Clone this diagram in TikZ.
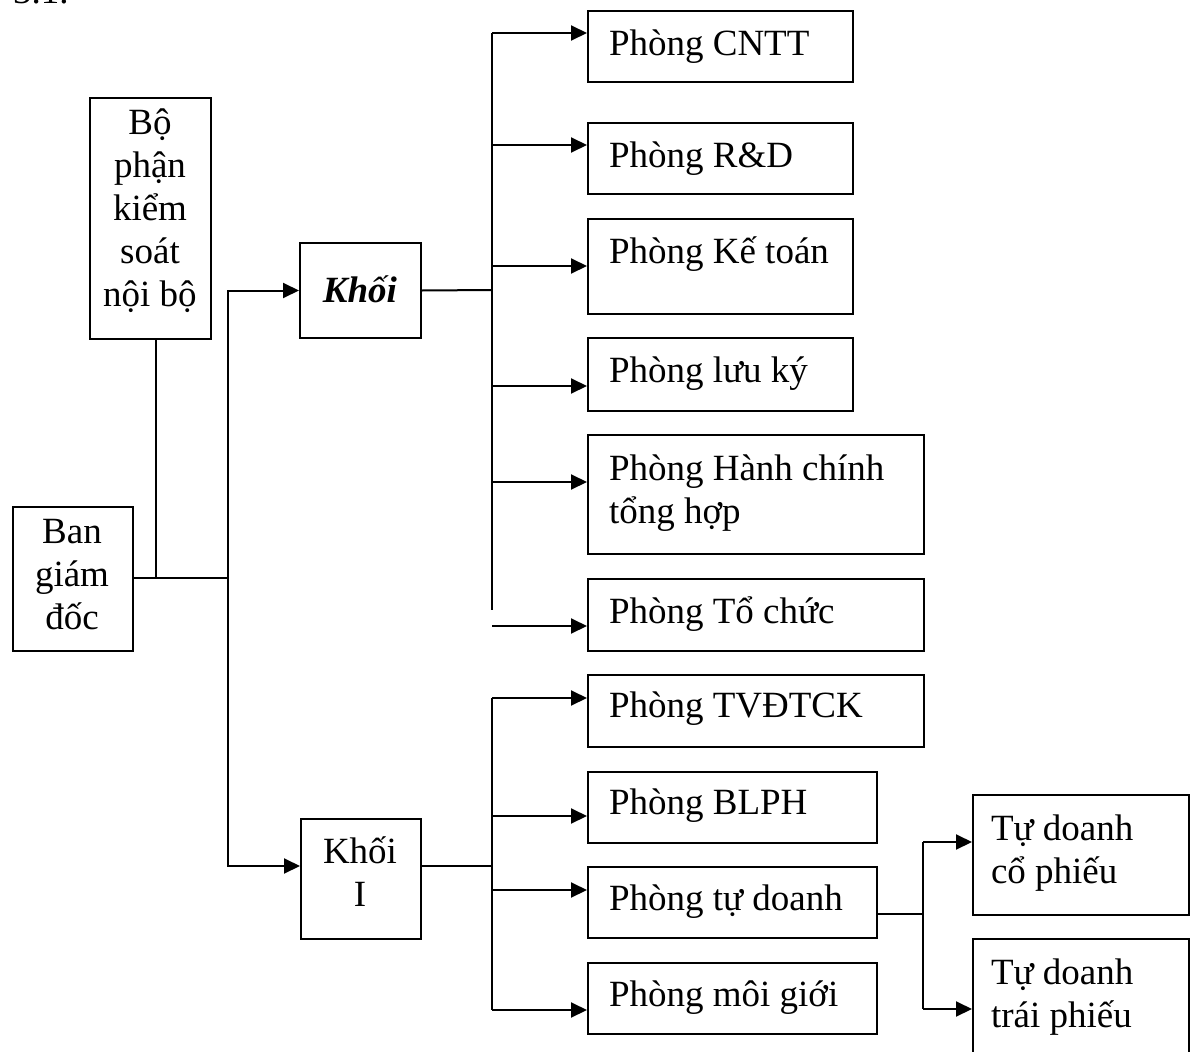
\documentclass[tikz,border=0pt]{standalone}
\usepackage{fontspec}
\setmainfont{Liberation Serif}
\usetikzlibrary{arrows.meta}
\newcommand{\cstk}[1]{\vtop{\baselineskip=43pt\lineskiplimit=-\maxdimen\lineskip=0pt\halign{\hfil##\hfil\cr#1\crcr}}}
\newcommand{\lstk}[1]{\vtop{\baselineskip=43pt\lineskiplimit=-\maxdimen\lineskip=0pt\halign{##\hfil\cr#1\crcr}}}
\begin{document}
\begin{tikzpicture}[x=1pt,y=-1pt,line width=2pt,
  box/.style={draw,line width=2pt,inner sep=0pt,anchor=north west},
  lbl/.style={inner sep=0pt,font=\fontsize{37}{43}\selectfont},
  arr/.style={-{Triangle[length=16pt,width=15pt]}}]
\useasboundingbox (0,0) rectangle (1195,1052);

% caption fragment at top (cut off)
\node[lbl,anchor=base west] (cap) at (12,4) {3.1.};

% boxes
\node[box,minimum width=121pt,minimum height=241pt] (bpk) at (89,97) {};
\node[box,minimum width=120pt,minimum height=144pt] (ban) at (12,506) {};
\node[box,minimum width=121pt,minimum height=95pt] (khoi) at (299,242) {};
\node[box,minimum width=120pt,minimum height=120pt] (khoi1) at (300,818) {};
\node[box,minimum width=265pt,minimum height=71pt] (cntt) at (587,10) {};
\node[box,minimum width=265pt,minimum height=71pt] (rd) at (587,122) {};
\node[box,minimum width=265pt,minimum height=95pt] (kt) at (587,218) {};
\node[box,minimum width=265pt,minimum height=73pt] (lk) at (587,337) {};
\node[box,minimum width=336pt,minimum height=119pt] (hc) at (587,434) {};
\node[box,minimum width=336pt,minimum height=72pt] (tc) at (587,578) {};
\node[box,minimum width=336pt,minimum height=72pt] (tv) at (587,674) {};
\node[box,minimum width=289pt,minimum height=71pt] (bl) at (587,771) {};
\node[box,minimum width=289pt,minimum height=71pt] (td) at (587,866) {};
\node[box,minimum width=289pt,minimum height=71pt] (mg) at (587,962) {};
\node[box,minimum width=216pt,minimum height=120pt] (tdcp) at (972,794) {};
\node[box,minimum width=216pt,minimum height=140pt] (tdtp) at (972,938) {};

% texts
\node[lbl,anchor=base] (bpkT) at (150,134) {\cstk{Bộ\cr phận\cr kiểm\cr soát\cr nội bộ}};
\node[lbl,anchor=base] (banT) at (72,543) {\cstk{Ban\cr giám\cr đốc}};
\node[lbl,anchor=base] (khoiT) at (360,302) {\textbf{\textit{Khối}}};
\node[lbl,anchor=base] (khoi1T) at (360,863) {\cstk{Khối\cr I}};
\node[lbl,anchor=base west] (cnttT) at (608,55) {Phòng CNTT};
\node[lbl,anchor=base west] (rdT) at (608,167) {Phòng R\&D};
\node[lbl,anchor=base west] (ktT) at (608,263) {Phòng Kế toán};
\node[lbl,anchor=base west] (lkT) at (608,382) {Phòng lưu ký};
\node[lbl,anchor=base west] (hcT) at (608,480) {\lstk{Phòng Hành chính\cr tổng hợp}};
\node[lbl,anchor=base west] (tcT) at (608,623) {Phòng Tổ chức};
\node[lbl,anchor=base west] (tvT) at (608,717) {Phòng TVĐTCK};
\node[lbl,anchor=base west] (blT) at (608,814) {Phòng BLPH};
\node[lbl,anchor=base west] (tdT) at (608,910) {Phòng tự doanh};
\node[lbl,anchor=base west] (mgT) at (608,1006) {Phòng môi giới};
\node[lbl,anchor=base west] (tdcpT) at (990,840) {\lstk{Tự doanh\cr cổ phiếu}};
\node[lbl,anchor=base west] (tdtpT) at (990,984) {\lstk{Tự doanh\cr trái phiếu}};

% left connectors
\coordinate (j0) at (156,578);
\coordinate (j1) at (228,578);
\coordinate (k1y) at (228,866);
\draw (bpk.south -| j0) -- (j0);
\draw (ban.east |- j1) -- (j1);
\draw[arr] (j1) |- (khoi.west);
\draw[arr] (j1) -- (k1y) -- (khoi1.west |- k1y);

% upper bus
\coordinate (b1) at (492,290);
\coordinate (b1top) at (492,33);
\coordinate (b1bot) at (492,610);
\draw (khoi.east) -- (b1);
\draw (b1top) -- (b1bot);
\foreach \n/\y in {cntt/33,rd/145,kt/266,lk/386,hc/482}{
  \coordinate (t\n) at (492,\y);
  \draw[arr] (t\n) -- (\n.west |- t\n);
}
\coordinate (ttc) at (492,626);
\draw[arr] (ttc) -- (tc.west |- ttc);

% lower bus
\coordinate (b2) at (492,866);
\coordinate (b2top) at (492,698);
\coordinate (b2bot) at (492,1010);
\draw (khoi1.east |- b2) -- (b2);
\draw (b2top) -- (b2bot);
\foreach \n/\y in {tv/698,bl/816,td/890,mg/1010}{
  \coordinate (t\n) at (492,\y);
  \draw[arr] (t\n) -- (\n.west |- t\n);
}

% tu doanh branch
\coordinate (c0) at (923,914);
\coordinate (c1) at (923,842);
\coordinate (c2) at (923,1009);
\draw (td.east |- c0) -- (c0);
\draw (c1) -- (c2);
\draw[arr] (c1) -- (tdcp.west |- c1);
\draw[arr] (c2) -- (tdtp.west |- c2);
\end{tikzpicture}
\end{document}
